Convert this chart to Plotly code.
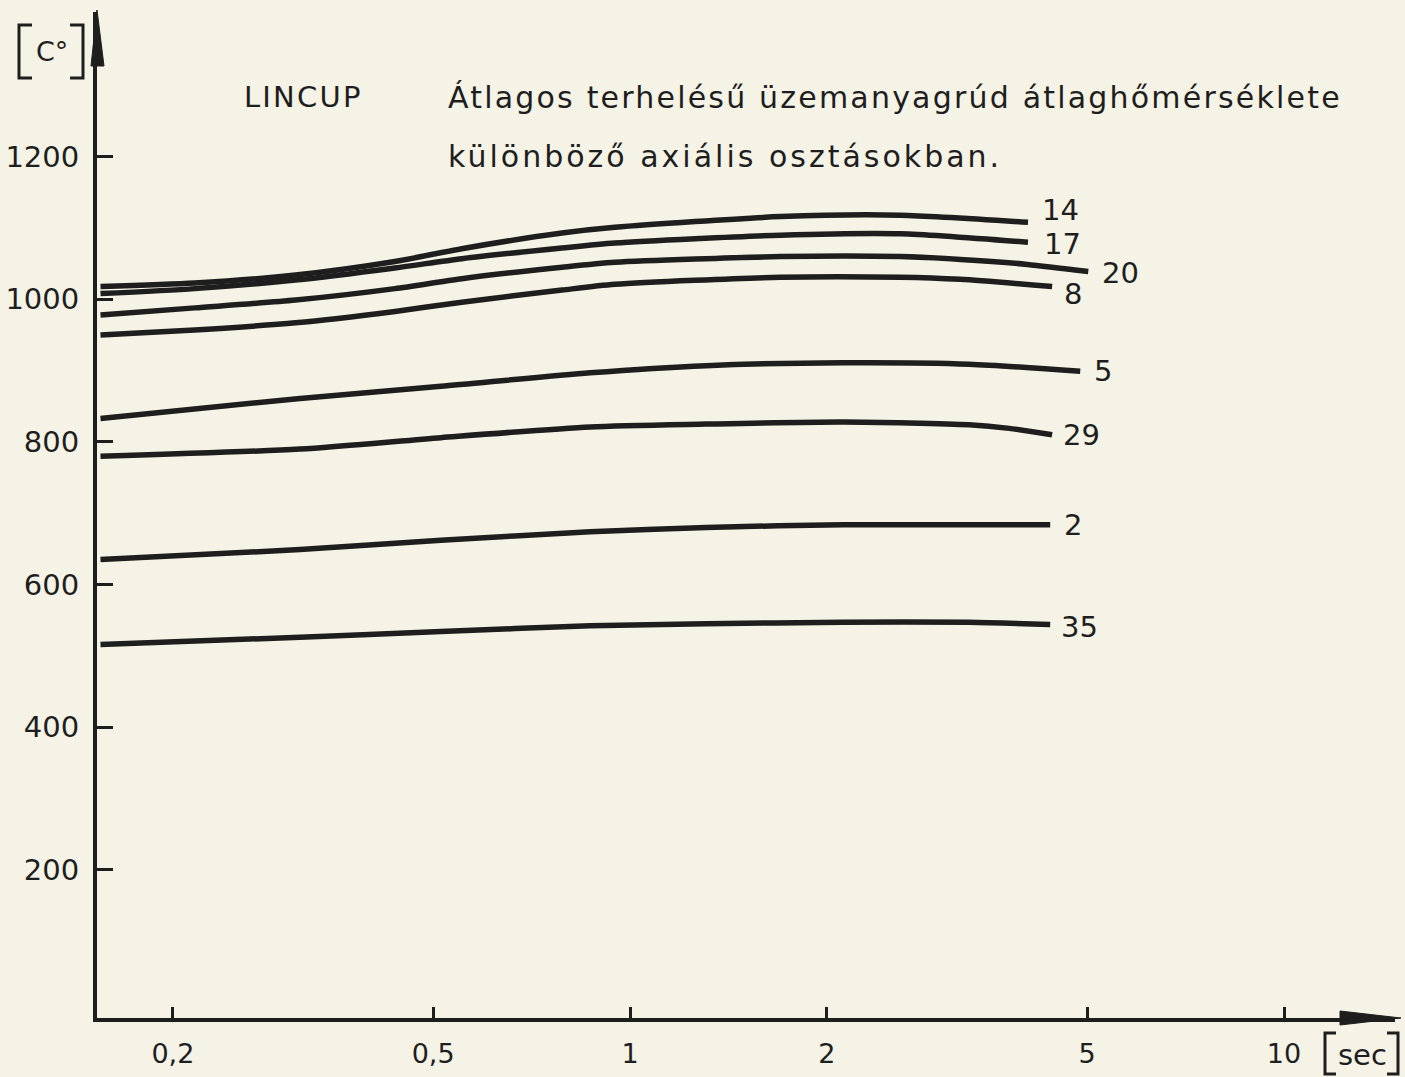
import math
import plotly.graph_objects as go

# Mean fuel-rod temperature (°C) vs. time (s) in different axial sections
t_14 = [0.155, 0.216, 0.308, 0.437, 0.553, 0.787, 0.948, 1.70, 2.59, 4.06]
T_14 = [1018, 1023, 1034, 1053, 1071, 1093, 1101, 1116, 1118, 1108]

t_17 = [0.155, 0.216, 0.308, 0.437, 0.553, 0.787, 0.948, 1.70, 2.59, 4.06]
T_17 = [1008, 1015, 1027, 1044, 1057, 1072, 1079, 1090, 1092, 1080]

t_20 = [0.155, 0.216, 0.308, 0.437, 0.553, 0.787, 0.948, 1.70, 2.59, 3.20, 4.05, 5.02]
T_20 = [978, 988, 999, 1015, 1029, 1045, 1052, 1060, 1060, 1056, 1049, 1039]

t_8 = [0.155, 0.216, 0.308, 0.437, 0.553, 0.787, 0.948, 1.70, 2.59, 3.20, 4.42]
T_8 = [950, 957, 967, 983, 996, 1013, 1021, 1031, 1031, 1028, 1018]

t_5 = [0.155, 0.313, 0.514, 0.869, 1.307, 2.117, 3.30, 4.88]
T_5 = [833, 861, 878, 897, 907, 911, 909, 899]

t_29 = [0.155, 0.313, 0.514, 0.869, 1.307, 2.117, 3.30, 3.80, 4.42]
T_29 = [780, 790, 806, 821, 825, 828, 824, 819, 810]

t_2 = [0.155, 0.313, 0.514, 0.869, 1.307, 2.117, 4.39]
T_2 = [635, 649, 662, 674, 680, 684, 684]

t_35 = [0.155, 0.313, 0.514, 0.869, 1.307, 2.117, 3.30, 4.39]
T_35 = [516, 526, 534, 542, 545, 547, 547, 544]

section_names = ["14", "17", "20", "8", "5", "29", "2", "35"]
section_t = [t_14, t_17, t_20, t_8, t_5, t_29, t_2, t_35]
section_T = [T_14, T_17, T_20, T_8, T_5, T_29, T_2, T_35]

x_tick_vals = [0.2, 0.5, 1, 2, 5, 10]
x_tick_text = ["0,2", "0,5", "1", "2", "5", "10"]
y_tick_vals = [200, 400, 600, 800, 1000, 1200]

title_tag = "LINCUP"
title_line1 = "Átlagos terhelésű üzemanyagrúd átlaghőmérséklete"
title_line2 = "különböző axiális osztásokban."

# label offsets (px) from the end of each curve
label_shift = {
    "14": (12, 12), "17": (14, -2), "20": (12, -1), "8": (10, -8),
    "5": (12, 0), "29": (9, 0), "2": (12, 0), "35": (9, -3),
}

W, H = 1405, 1077
ML, MR, MT, MB = 97, 10, 12, 59
PW, PH = W - ML - MR, H - MT - MB

INK = "#1e1e1e"
PAPER = "#f5f3e5"
FONT = "DejaVu Sans"


def px_x(p):
    return (p - ML) / PW


def px_y(p):
    return (H - MB - p) / PH


def spaced(text, px):
    return f"<span style='letter-spacing:{px}px'>{text}</span>"


fig = go.Figure()

for name, t, T in zip(section_names, section_t, section_T):
    fig.add_trace(go.Scatter(
        x=t, y=T, mode="lines", name=name,
        line=dict(color=INK, width=5.5, shape="spline", smoothing=0.7),
        showlegend=False, hoverinfo="skip",
    ))
    dx, dy = label_shift[name]
    fig.add_annotation(
        x=math.log10(t[-1]), y=T[-1], xref="x", yref="y",
        text=name, showarrow=False, xanchor="left", yanchor="middle",
        xshift=dx, yshift=dy, font=dict(family=FONT, size=29, color=INK),
    )

# titles
fig.add_annotation(x=px_x(242), y=px_y(97), xref="paper", yref="paper",
                   text=spaced(title_tag, 2.2), showarrow=False,
                   xanchor="left", yanchor="middle",
                   font=dict(family=FONT, size=29, color=INK))
fig.add_annotation(x=px_x(446), y=px_y(97), xref="paper", yref="paper",
                   text=spaced(title_line1, 2.2), showarrow=False,
                   xanchor="left", yanchor="middle",
                   font=dict(family=FONT, size=30, color=INK))
fig.add_annotation(x=px_x(446), y=px_y(156), xref="paper", yref="paper",
                   text=spaced(title_line2, 3), showarrow=False,
                   xanchor="left", yanchor="middle",
                   font=dict(family=FONT, size=30, color=INK))

# axis unit labels with drawn brackets
fig.add_annotation(x=px_x(52), y=px_y(52), xref="paper", yref="paper",
                   text="C°", showarrow=False, xanchor="center", yanchor="middle",
                   font=dict(family=FONT, size=27, color=INK))
fig.add_annotation(x=px_x(1362), y=px_y(1055), xref="paper", yref="paper",
                   text="sec", showarrow=False, xanchor="center", yanchor="middle",
                   font=dict(family=FONT, size=29, color=INK))


def bracket(x_outer, x_inner, y_top, y_bot):
    return (f"M {px_x(x_inner)},{px_y(y_top)} L {px_x(x_outer)},{px_y(y_top)} "
            f"L {px_x(x_outer)},{px_y(y_bot)} L {px_x(x_inner)},{px_y(y_bot)}")


for path in [bracket(19, 32, 25, 78), bracket(83, 70, 25, 78),
             bracket(1325, 1336, 1033, 1074), bracket(1398, 1387, 1033, 1074)]:
    fig.add_shape(type="path", path=path, xref="paper", yref="paper",
                  line=dict(color=INK, width=3))

# axis arrowheads
fig.add_shape(type="path", xref="paper", yref="paper",
              path=(f"M {px_x(97)},{px_y(10)} L {px_x(91)},{px_y(66)} "
                    f"L {px_x(104)},{px_y(66)} Z"),
              fillcolor=INK, line=dict(color=INK, width=1))
fig.add_shape(type="path", xref="paper", yref="paper",
              path=(f"M {px_x(1401)},{px_y(1018)} L {px_x(1340)},{px_y(1011)} "
                    f"L {px_x(1340)},{px_y(1025)} Z"),
              fillcolor=INK, line=dict(color=INK, width=1))

fig.update_layout(
    width=W, height=H,
    margin=dict(l=ML, r=MR, t=MT, b=MB, pad=0, autoexpand=False),
    paper_bgcolor=PAPER, plot_bgcolor=PAPER,
    font=dict(family=FONT, color=INK),
    showlegend=False,
)

fig.update_xaxes(
    type="log", range=[-0.815, 1.1697], automargin=False,
    showline=True, linecolor=INK, linewidth=4,
    showgrid=False, zeroline=False,
    ticks="inside", ticklen=11, tickwidth=3, tickcolor=INK,
    tickvals=x_tick_vals, ticktext=x_tick_text,
    tickfont=dict(family=FONT, size=27, color=INK),
    ticklabelstandoff=9,
)
fig.update_yaxes(
    range=[-8, 1403], automargin=False,
    showline=True, linecolor=INK, linewidth=4,
    showgrid=False, zeroline=False,
    ticks="inside", ticklen=16, tickwidth=3, tickcolor=INK,
    tickvals=y_tick_vals,
    tickfont=dict(family=FONT, size=29, color=INK),
    ticklabelstandoff=8,
)

fig.write_html("out.html")
